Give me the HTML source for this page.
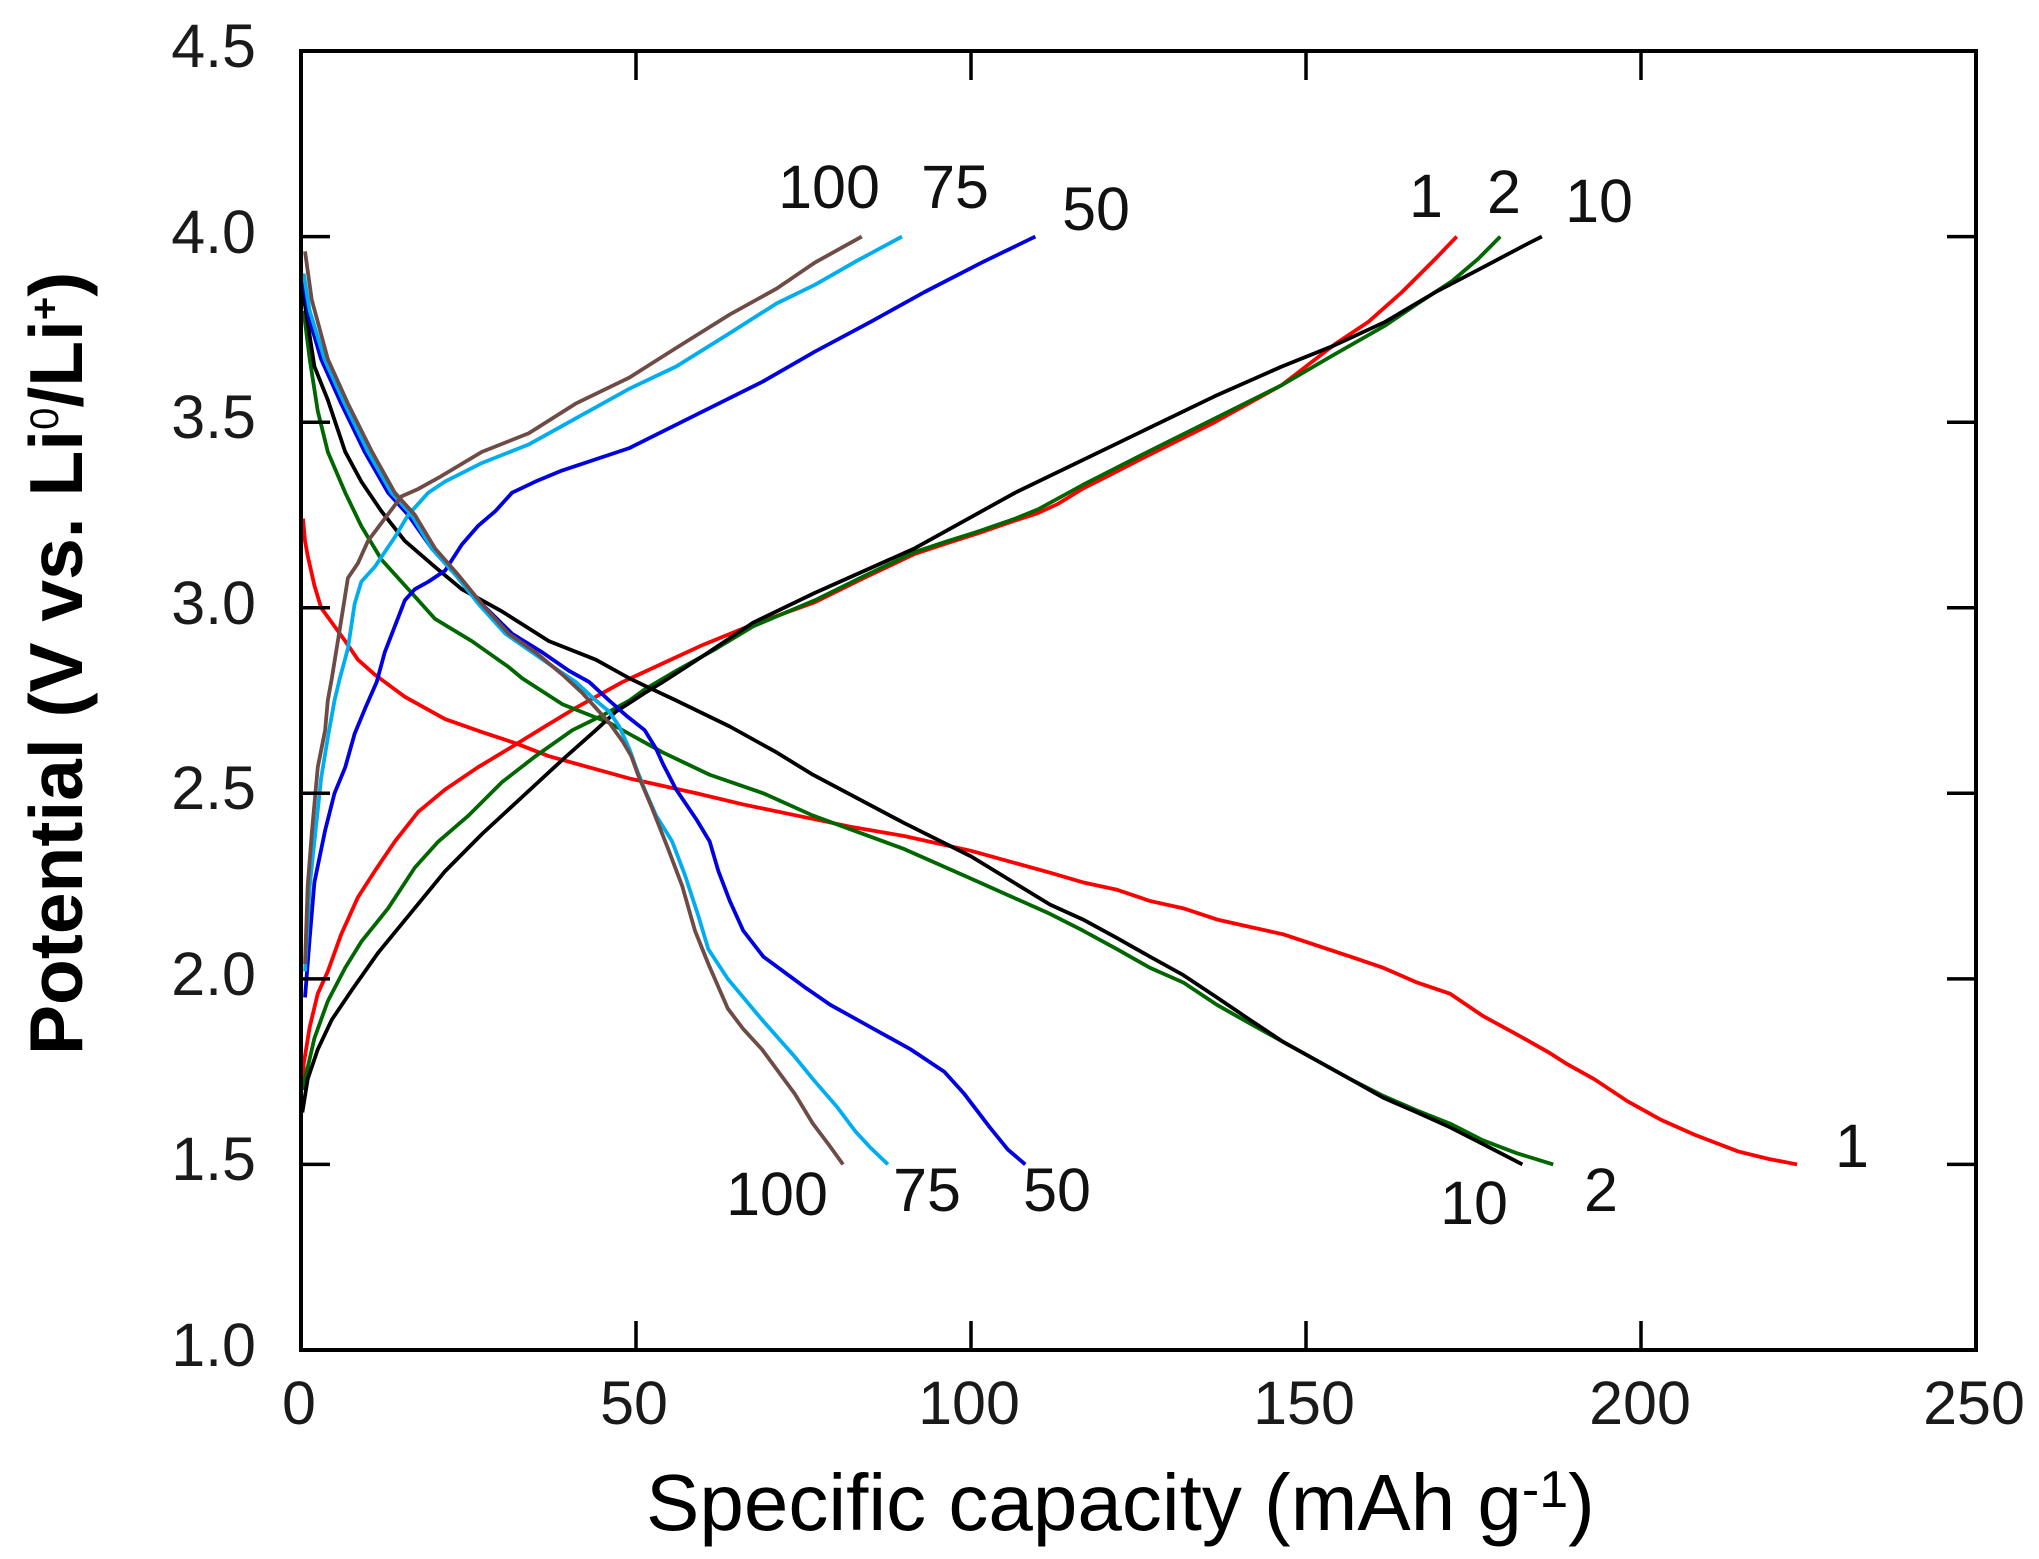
<!DOCTYPE html>
<html>
<head>
<meta charset="utf-8">
<style>
html,body{margin:0;padding:0;background:#fff;}
svg{display:block;}
text{font-family:"Liberation Sans",Arial,sans-serif;}
</style>
</head>
<body>
<svg width="2039" height="1559" viewBox="0 0 2039 1559" xmlns="http://www.w3.org/2000/svg">
<rect x="0" y="0" width="2039" height="1559" fill="#fff"/>

<g transform="translate(301,1350) scale(6.7,-371.14) translate(0,-1)" fill="none" stroke-width="3.8" stroke-linejoin="round" stroke-linecap="butt">
  <polyline vector-effect="non-scaling-stroke" stroke="#ff0000" points="0.3,1.72 0.4,1.77 1.3,1.87 2.5,1.96 4,2.02 6,2.12 8.5,2.22 11,2.29 14,2.37 17.5,2.45 21.5,2.51 26.4,2.57 31,2.62 36.4,2.68 41,2.73 45,2.77 48,2.80 54,2.85 60,2.90 67.5,2.955 76.7,3.015 84,3.08 91.6,3.145 96.6,3.175 101,3.20 106.6,3.235 110,3.255 113,3.28 116.6,3.32 121,3.36 126.4,3.41 136.4,3.50 146.4,3.60 154.3,3.71 159.3,3.77 164.3,3.85 169.3,3.94 172.5,4.0"/>
  <polyline vector-effect="non-scaling-stroke" stroke="#ff0000" points="0.3,3.24 0.6,3.18 1,3.14 2,3.06 3,3.0 4.6,2.96 6.6,2.91 8.5,2.86 11,2.82 15.5,2.76 21.5,2.70 27,2.665 32,2.635 37,2.60 43,2.57 49,2.54 54,2.52 59,2.50 66,2.47 74,2.44 82,2.41 90,2.385 100,2.345 111.8,2.286 116.7,2.26 121.8,2.24 126.7,2.21 131.7,2.19 136.7,2.16 141.6,2.14 146.6,2.12 151.6,2.09 156.6,2.06 161.5,2.03 166.6,1.99 171.5,1.96 176.4,1.90 181.5,1.85 186.4,1.80 189,1.77 193,1.73 198,1.67 203,1.62 208,1.58 214.5,1.535 219,1.515 223.3,1.5"/>
  <polyline vector-effect="non-scaling-stroke" stroke="#006600" points="0.4,1.70 0.6,1.73 2,1.84 4,1.94 6.6,2.03 9,2.10 13,2.19 17,2.30 20.5,2.37 25,2.44 30,2.53 35,2.60 40.5,2.67 45,2.71 49,2.75 51.3,2.78 56,2.83 62,2.89 67.5,2.95 76.7,3.02 84,3.085 91.6,3.15 96.6,3.18 101,3.205 106.6,3.24 110,3.265 116.6,3.33 126.4,3.42 136.4,3.51 146.4,3.60 154,3.68 161.8,3.76 166.7,3.82 171.8,3.88 175.7,3.94 179,4.0"/>
  <polyline vector-effect="non-scaling-stroke" stroke="#006600" points="0.5,3.80 0.6,3.77 1.3,3.67 2.5,3.53 4,3.42 6.6,3.31 9,3.22 12,3.13 16,3.05 20,2.97 25.5,2.91 31,2.84 33,2.81 39,2.74 46,2.69 54,2.61 61,2.55 69,2.50 76.4,2.44 90,2.35 100,2.27 111.8,2.175 116.7,2.13 121.8,2.08 126.7,2.03 131.7,1.99 136.7,1.93 141.6,1.88 146.6,1.83 151.6,1.78 156.6,1.73 161.5,1.685 166.6,1.645 171.5,1.61 176.4,1.565 181.5,1.53 186.9,1.50"/>
  <polyline vector-effect="non-scaling-stroke" stroke="#000000" points="0.2,1.64 1,1.73 2.5,1.81 4.6,1.89 7.6,1.97 11.5,2.07 16.5,2.18 21.5,2.29 27,2.39 33,2.49 39,2.59 44,2.67 47,2.72 51.3,2.77 54,2.80 60,2.87 67.5,2.96 76.7,3.04 91.6,3.16 106.6,3.31 121.5,3.44 136.4,3.57 146.4,3.65 154,3.705 161.8,3.77 169.3,3.85 176.7,3.92 183,3.98 185.2,4.0"/>
  <polyline vector-effect="non-scaling-stroke" stroke="#000000" points="0.2,3.90 0.3,3.85 2,3.65 4,3.56 6.6,3.42 9,3.34 12,3.26 15.5,3.18 20,3.11 24,3.05 30,2.99 37,2.91 44,2.86 49,2.81 51.3,2.79 56,2.75 64,2.68 71,2.61 76.4,2.55 90,2.42 100,2.33 111.8,2.20 116.7,2.16 121.8,2.11 126.7,2.06 131.7,2.01 136.7,1.95 141.6,1.89 146.6,1.83 151.6,1.78 156.6,1.73 161.5,1.68 166.6,1.64 171.5,1.60 176.4,1.555 182.3,1.50"/>
  <polyline vector-effect="non-scaling-stroke" stroke="#0000e0" points="0.6,1.95 1.3,2.11 2,2.26 3.6,2.40 5,2.50 6.6,2.57 8,2.66 9.6,2.73 11.3,2.80 12.5,2.88 14,2.95 15.5,3.02 17,3.05 19,3.07 21.5,3.10 24,3.17 26.4,3.22 29,3.26 31.5,3.31 35,3.34 39,3.37 49,3.43 59,3.52 69,3.61 76.7,3.69 85,3.77 93,3.85 101.6,3.93 109.6,4.0"/>
  <polyline vector-effect="non-scaling-stroke" stroke="#0000e0" points="0.4,3.88 1.2,3.78 3,3.67 6,3.55 9.5,3.42 13,3.31 16,3.25 19.5,3.16 23,3.09 27,3.01 31.5,2.93 36,2.88 40,2.83 43,2.80 46,2.75 48.5,2.71 51.3,2.67 53,2.62 54,2.58 56,2.51 59,2.43 61,2.37 62.3,2.29 64,2.21 66,2.13 69,2.06 72,2.02 75,1.98 79,1.93 85,1.87 91,1.81 96,1.75 99,1.69 102.8,1.60 105.5,1.54 108.1,1.5"/>
  <polyline vector-effect="non-scaling-stroke" stroke="#00aeef" points="0.6,2.02 1.3,2.25 2,2.37 3,2.54 4,2.65 5,2.75 5.8,2.81 7,2.89 8,3.01 9,3.07 11,3.11 14,3.19 16,3.25 19,3.31 21.5,3.34 27,3.39 34,3.44 41,3.51 49,3.59 56,3.65 64,3.74 71,3.82 76.7,3.87 83,3.935 89.7,4.0"/>
  <polyline vector-effect="non-scaling-stroke" stroke="#00aeef" points="0.4,3.90 1.3,3.80 3.5,3.67 6.5,3.55 10,3.42 13.5,3.31 16.5,3.25 19.5,3.16 23,3.09 26.5,3.01 30.5,2.93 34.5,2.88 38.5,2.83 41,2.80 44,2.75 46,2.72 47.5,2.68 49,2.62 50.2,2.56 51.3,2.51 53,2.44 55.4,2.37 57.3,2.28 59.3,2.17 60.8,2.08 63.7,2.0 68.8,1.89 73.7,1.79 76.4,1.73 80,1.655 82.7,1.59 85,1.545 87.6,1.5"/>
  <polyline vector-effect="non-scaling-stroke" stroke="#6e4b45" points="0.6,2.04 1,2.25 1.6,2.39 2.5,2.57 3.6,2.67 4,2.75 4.6,2.81 5.5,2.91 6.3,3.0 7,3.08 8.5,3.12 10,3.18 12.5,3.24 15,3.30 17.5,3.32 20.5,3.35 27,3.42 34,3.47 41,3.55 49,3.62 56,3.70 64,3.79 71,3.86 76.7,3.93 83.7,4.0"/>
  <polyline vector-effect="non-scaling-stroke" stroke="#6e4b45" points="0.6,3.96 1.6,3.83 4,3.67 7,3.55 10.6,3.42 14,3.31 17,3.25 20,3.16 23.4,3.09 27,3.01 31,2.93 35,2.88 39,2.82 42,2.77 44,2.73 46,2.69 48,2.64 49.3,2.60 50.3,2.55 52.4,2.46 54.8,2.35 56.9,2.25 58.8,2.13 60.8,2.04 63.7,1.92 66,1.865 68.8,1.81 73.7,1.69 76.4,1.61 78.7,1.555 80.9,1.5"/>
</g>

<rect x="301" y="51" width="1675" height="1299" fill="none" stroke="#000" stroke-width="4"/>
<g stroke="#000" stroke-width="3.5">
  <line x1="301" y1="236.6" x2="330" y2="236.6"/>
  <line x1="301" y1="422.2" x2="330" y2="422.2"/>
  <line x1="301" y1="607.7" x2="330" y2="607.7"/>
  <line x1="301" y1="793.3" x2="330" y2="793.3"/>
  <line x1="301" y1="978.9" x2="330" y2="978.9"/>
  <line x1="301" y1="1164.4" x2="330" y2="1164.4"/>
  <line x1="1976" y1="236.6" x2="1947" y2="236.6"/>
  <line x1="1976" y1="422.2" x2="1947" y2="422.2"/>
  <line x1="1976" y1="607.7" x2="1947" y2="607.7"/>
  <line x1="1976" y1="793.3" x2="1947" y2="793.3"/>
  <line x1="1976" y1="978.9" x2="1947" y2="978.9"/>
  <line x1="1976" y1="1164.4" x2="1947" y2="1164.4"/>
  <line x1="636" y1="1350" x2="636" y2="1321"/>
  <line x1="971" y1="1350" x2="971" y2="1321"/>
  <line x1="1306" y1="1350" x2="1306" y2="1321"/>
  <line x1="1641" y1="1350" x2="1641" y2="1321"/>
  <line x1="636" y1="51" x2="636" y2="80"/>
  <line x1="971" y1="51" x2="971" y2="80"/>
  <line x1="1306" y1="51" x2="1306" y2="80"/>
  <line x1="1641" y1="51" x2="1641" y2="80"/>
</g>

<g font-size="61" fill="#1a1a1a" text-anchor="end">
  <text x="256" y="67">4.5</text>
  <text x="256" y="253">4.0</text>
  <text x="256" y="438">3.5</text>
  <text x="256" y="624">3.0</text>
  <text x="256" y="809">2.5</text>
  <text x="256" y="995">2.0</text>
  <text x="256" y="1180">1.5</text>
  <text x="256" y="1366">1.0</text>
</g>
<g font-size="61" fill="#1a1a1a" text-anchor="middle">
  <text x="299" y="1424">0</text>
  <text x="634" y="1424">50</text>
  <text x="969" y="1424">100</text>
  <text x="1304" y="1424">150</text>
  <text x="1640" y="1424">200</text>
  <text x="1974" y="1424">250</text>
</g>

<g font-size="61" fill="#111" text-anchor="middle">
  <text x="829" y="208">100</text>
  <text x="955" y="208">75</text>
  <text x="1096" y="230">50</text>
  <text x="1426" y="217">1</text>
  <text x="1504" y="213">2</text>
  <text x="1599" y="222">10</text>
  <text x="777" y="1215">100</text>
  <text x="927" y="1211">75</text>
  <text x="1057" y="1211">50</text>
  <text x="1474" y="1224">10</text>
  <text x="1601" y="1211">2</text>
  <text x="1852" y="1167">1</text>
</g>

<text x="646" y="1530" font-size="80" fill="#000">Specific capacity (mAh g<tspan font-size="52" dy="-23">-1</tspan><tspan dy="23">)</tspan></text>

<text transform="translate(82,1055) rotate(-90)" font-size="75" font-weight="bold" fill="#000">Potential (V vs. Li<tspan font-size="40" font-weight="normal" dy="-24">0</tspan><tspan dy="24">/Li</tspan><tspan font-size="40" dy="-24">+</tspan><tspan dy="24">)</tspan></text>
</svg>
</body>
</html>
